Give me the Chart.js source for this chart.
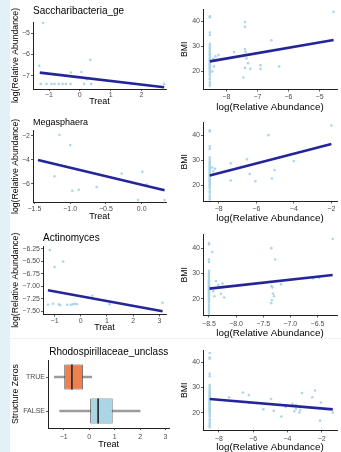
<!DOCTYPE html>
<html>
<head>
<meta charset="utf-8">
<script src="https://cdn.jsdelivr.net/npm/chart.js@4.4.1/dist/chart.umd.min.js"></script>
<style>
  body { margin: 0; background: #fff; width: 341px; height: 452px; position: relative; overflow: hidden; }
  .strip { position: absolute; left: 0; top: 0; width: 10px; height: 452px; background: #e3f0f8; }
  .sep { position: absolute; left: 10px; top: 338px; width: 331px; height: 1px; background: #eef2f4; }
  canvas { position: absolute; }
</style>
</head>
<body>
<div class="strip"></div>
<div class="sep"></div>
<canvas id="c1"></canvas>
<canvas id="c2"></canvas>
<canvas id="c3"></canvas>
<canvas id="c4"></canvas>
<canvas id="c5"></canvas>
<canvas id="c6"></canvas>
<canvas id="c7"></canvas>
<canvas id="c8"></canvas>
<script>
'use strict';

// ---- data ----

// Saccharibacteria_ge : Treat vs log(abundance)
let saccTreat = [-1.19, -1.32, 0.34, -0.29, 0.05, 0.23, -1.27, -1.08, -0.92, -0.82, -0.68, -0.56, -0.45, -0.3, 0.14, 0.37, 2.74];
let saccLog = [-4.5, -6.53, -6.25, -6.85, -6.82, -7.16, -7.38, -7.38, -7.38, -7.38, -7.38, -7.38, -7.38, -7.38, -7.38, -7.38, -7.38];
let saccFitTreat = [-1.3, 2.74];
let saccFitLog = [-6.85, -7.54];

// Megasphaera
let megaTreat = [-1.15, -1.0, -1.22, -0.28, 0.01, 0.07, -0.63, -0.97, -0.88, -0.05, 0.32];
let megaLog = [-1.94, -2.79, -5.39, -5.16, -5.02, -6.08, -6.28, -6.6, -6.51, -7.36, -7.36];
let megaFitTreat = [-1.45, 0.32];
let megaFitLog = [-4.04, -6.55];

// Actinomyces
let actiTreat = [-1.18, -1.0, -0.67, 0.44, 1.1, 3.12, -1.25, -1.06, -0.84, -0.78, -0.51, -0.38, -0.3, -0.22, -0.14];
let actiLog = [-6.27, -6.61, -6.5, -7.19, -7.36, -7.33, -7.37, -7.35, -7.36, -7.38, -7.37, -7.37, -7.36, -7.35, -7.36];
let actiFitTreat = [-1.25, 3.12];
let actiFitLog = [-7.08, -7.5];

// Rhodospirillaceae_unclass : Treat by structural zero
let zeroGroups = ['TRUE', 'FALSE'];
let treatMin = [-1.37, -1.16];
let treatQ1 = [-0.98, 0.04];
let treatMed = [-0.68, 0.35];
let treatQ3 = [-0.25, 0.92];
let treatMax = [0.1, 2.0];

// BMI of the samples sitting at the detection floor (the vertical column)
let floorBmi = [42, 41.5, 35.5, 34.5, 31, 30.2, 29.5, 29, 28.3, 27.8, 27.2, 26.8, 26.3, 25.8, 25.3, 24.8, 24.4, 24, 23.6, 23.2, 22.8, 22.4, 22, 21.6, 21.2, 20.8, 20.3, 19.8, 19.2, 18.5, 17.5, 16.8, 15.8, 15, 14.2];

// Saccharibacteria_ge : log(abundance) vs BMI
let saccFloor = -8.53;
let saccAbund = [-8.42, -8.35, -8.3, -8.25, -8.4, -8.45, -7.75, -7.4, -7.4, -7.4, -7.38, -7.35, -7.3, -7.4, -7.45, -7.23, -6.9, -6.9, -6.55, -6.3, -4.55];
let saccBmi = [25, 26, 24.5, 26.5, 22, 20, 27.7, 39.7, 37.8, 28.9, 27.8, 25.2, 23.3, 21.4, 17.6, 21, 22.5, 21, 32.4, 22, 43.8];
let saccFitAbund = [-8.53, -4.55];
let saccFitBmi = [24.0, 32.5];

// Megasphaera
let megaFloor = -8.48;
let megaAbund = [-8.3, -8.2, -8.35, -2.0, -5.35, -4.0, -6.5, -7.36, -7.36, -6.35, -6.05, -5.03, -5.17];
let megaBmi = [25.5, 26.5, 27, 43.9, 40, 29.6, 30.3, 28.7, 21.8, 24.4, 21.5, 26, 22.6];
let megaFitAbund = [-8.48, -2.0];
let megaFitBmi = [23.8, 36.5];

// Actinomyces
let actiFloor = -8.5;
let actiAbund = [-8.44, -8.37, -8.33, -8.3, -8.28, -8.25, -8.4, -8.42, -8.22, -7.35, -7.28, -7.35, -7.33, -7.32, -7.3, -7.34, -7.35, -7.17, -6.58, -6.47, -6.22];
let actiBmi = [38.5, 27, 25.5, 24.5, 22, 26, 21, 23, 20.5, 40, 35.5, 25, 24.5, 22, 21, 19.5, 18.3, 25.7, 28, 28.2, 43.6];
let actiFitAbund = [-8.49, -6.22];
let actiFitBmi = [24.0, 29.4];

// Rhodospirillaceae_unclass
let rhodFloor = -8.53;
let rhodAbund = [-8.53, -7.4, -6.6, -6.25, -6.25, -5.4, -4.95, -4.8, -4.35, -4.1, -3.7, -3.6, -3.5, -3.3, -3.25, -3.15, -2.55, -2.4, -2.05, -2.1, -1.35, -3.5];
let rhodBmi = [43.8, 26.1, 28, 27, 24, 21.3, 25.4, 20.7, 18.4, 22.2, 23.5, 20.5, 21.5, 20, 21, 27.8, 26.1, 28.8, 24, 16.8, 20, 23];
let rhodFitAbund = [-8.53, -1.36];
let rhodFitBmi = [25.4, 21.3];

// tick labels
let treatTicks1 = [-1, 0, 1, 2];
let logTicks1 = [-7, -6, -5];
let treatTicks2 = [-1.5, -1.0, -0.5, 0.0];
let logTicks2 = [-6, -4, -2];
let treatTicks3 = [-1, 0, 1, 2, 3];
let logTicks3 = [-7.5, -7.25, -7.0, -6.75, -6.5, -6.25];
let treatTicks4 = [-1, 0, 1, 2, 3];
let bmiTicks = [20, 30, 40];
let abundTicks1 = [-8, -7, -6, -5];
let abundTicks2 = [-8, -6, -4, -2];
let abundTicks3 = [-8.5, -8.0, -7.5, -7.0, -6.5];
let abundTicks4 = [-8, -6, -4, -2];

// ---- drawing ----
const FONT = '"Liberation Sans", Arial, sans-serif';
const DOT = 'rgba(168, 212, 230, 0.95)';
const FIT = '#25259b';

Chart.register({
  id: 'sideTitle',
  afterDraw(chart, args, o) {
    if (!o.text) return;
    const ctx = chart.ctx;
    const a = chart.chartArea;
    ctx.save();
    ctx.translate(o.x, (a.top + a.bottom) / 2);
    ctx.rotate(-Math.PI / 2);
    ctx.font = o.size + 'px ' + FONT;
    ctx.fillStyle = '#000';
    ctx.textAlign = 'center';
    ctx.textBaseline = 'middle';
    ctx.fillText(o.text, 0, 0);
    ctx.restore();
  }
});

function place(id, left, top, w, h) {
  let c = document.getElementById(id);
  c.width = w;
  c.height = h;
  c.style.left = left + 'px';
  c.style.top = top + 'px';
  return c;
}

function fmt(v, d) {
  return v.toFixed(d).replace('-', '\u2212');
}

function axis(min, max, ticks, o) {
  return {
    type: 'linear',
    min: min,
    max: max,
    afterBuildTicks: s => { s.ticks = ticks.map(v => ({ value: v })); },
    afterFit: s => { if (s.isHorizontal()) s.height = o.size; else s.width = o.size; },
    grid: { display: true, drawOnChartArea: false, drawTicks: true, tickLength: 2, color: '#333', lineWidth: 0.8 },
    border: { display: true, color: '#222', width: 1 },
    ticks: {
      font: { size: 7, family: FONT }, color: '#4d4d4d', padding: o.pad,
      maxRotation: 0, autoSkip: false,
      callback: v => fmt(v, o.dec || 0)
    },
    title: o.title
      ? { display: true, text: o.title, color: '#000', font: { size: o.tsize, family: FONT }, padding: { top: 0, bottom: 0 } }
      : { display: false }
  };
}

function pts(xs, ys) {
  return xs.map((x, i) => ({ x: x, y: ys[i] }));
}

function scatterPanel(id, box, data, xAx, yAx, title, side) {
  let c = place(id, box[0], box[1], box[2], box[3]);
  let plugins = {
    legend: { display: false },
    tooltip: { enabled: false },
    sideTitle: side
  };
  if (title) {
    plugins.title = {
      display: true, text: title.text, align: 'start', fullSize: false,
      color: '#000', font: { size: title.size, family: FONT, weight: 'normal' },
      padding: title.pad
    };
  }
  return new Chart(c, {
    type: 'scatter',
    data: {
      datasets: [
        {
          data: pts(data.fx, data.fy), showLine: true, pointRadius: 0,
          borderColor: FIT, borderWidth: 2.6, order: 1
        },
        {
          data: pts(data.x, data.y), pointRadius: 1.3, pointBorderWidth: 0,
          backgroundColor: DOT, order: 2
        }
      ]
    },
    options: {
      responsive: false,
      animation: false,
      layout: { padding: box[4] },
      plugins: plugins,
      scales: { x: xAx, y: yAx }
    }
  });
}

function floorPoints(floor, xs, ys) {
  return {
    x: floorBmi.map(() => floor).concat(xs),
    y: floorBmi.concat(ys)
  };
}

// row 1
scatterPanel('c1', [0, 5, 170, 102, { right: 2 }],
  { x: saccTreat, y: saccLog, fx: saccFitTreat, fy: saccFitLog },
  axis(-1.52, 2.8, treatTicks1, { size: 18, pad: 0, title: 'Treat', tsize: 9 }),
  axis(-7.62, -4.47, logTicks1, { size: 33, pad: 1 }),
  { text: 'Saccharibacteria_ge', size: 10, pad: { top: 0, bottom: 5 } },
  { text: 'log(Relative Abundance)', x: 16, size: 8.7 });

let d2 = floorPoints(saccFloor, saccAbund, saccBmi);
scatterPanel('c2', [170, 4, 171, 109, { top: 3 }],
  { x: d2.x, y: d2.y, fx: saccFitAbund, fy: saccFitBmi },
  axis(-8.75, -4.44, abundTicks1, { size: 23.5, pad: 1, title: 'log(Relative Abundance)', tsize: 9.8 }),
  axis(12.8, 44.8, bmiTicks, { size: 33, pad: 1 }),
  null,
  { text: 'BMI', x: 15, size: 8.7 });

// row 2
scatterPanel('c3', [0, 115, 170, 107, { right: 2 }],
  { x: megaTreat, y: megaLog, fx: megaFitTreat, fy: megaFitLog },
  axis(-1.52, 0.34, treatTicks2, { size: 20, pad: 1, title: 'Treat', tsize: 9, dec: 1 }),
  axis(-7.53, -1.6, logTicks2, { size: 33, pad: 1 }),
  { text: 'Megasphaera', size: 9, pad: { top: 2, bottom: 3 } },
  { text: 'log(Relative Abundance)', x: 16, size: 8.7 });

let d4 = floorPoints(megaFloor, megaAbund, megaBmi);
scatterPanel('c4', [170, 117, 171, 107, { top: 3 }],
  { x: d4.x, y: d4.y, fx: megaFitAbund, fy: megaFitBmi },
  axis(-8.84, -1.7, abundTicks2, { size: 22.5, pad: 1, title: 'log(Relative Abundance)', tsize: 9.8 }),
  axis(13.4, 45.2, bmiTicks, { size: 33, pad: 1 }),
  null,
  { text: 'BMI', x: 15, size: 8.7 });

// row 3
scatterPanel('c5', [0, 229, 170, 104, {}],
  { x: actiTreat, y: actiLog, fx: actiFitTreat, fy: actiFitLog },
  axis(-1.44, 3.25, treatTicks3, { size: 18.5, pad: 0.5, title: 'Treat', tsize: 9 }),
  axis(-7.565, -6.19, logTicks3, { size: 43, pad: 1, dec: 2 }),
  { text: 'Actinomyces', size: 10, pad: { top: 3, bottom: 2 } },
  { text: 'log(Relative Abundance)', x: 16, size: 8.7 });

let d6 = floorPoints(actiFloor, actiAbund, actiBmi);
scatterPanel('c6', [170, 229, 171, 110, { top: 3 }],
  { x: d6.x, y: d6.y, fx: actiFitAbund, fy: actiFitBmi },
  axis(-8.61, -6.14, abundTicks3, { size: 23.5, pad: 2, title: 'log(Relative Abundance)', tsize: 9.8, dec: 1 }),
  axis(13.4, 45.5, bmiTicks, { size: 33, pad: 1 }),
  null,
  { text: 'BMI', x: 15, size: 8.7 });

// row 4, left: box plot built from floating bars
let c7 = place('c7', 0, 343, 170, 107);
let boxX = axis(-1.62, 3.15, treatTicks4, { size: 22, pad: 2.5, title: 'Treat', tsize: 9 });
new Chart(c7, {
  type: 'bar',
  data: {
    labels: zeroGroups,
    datasets: [
      {
        data: zeroGroups.map((g, i) => [treatMin[i], treatMax[i]]),
        backgroundColor: '#9b9b9b', barThickness: 1.8, grouped: false, order: 3
      },
      {
        data: zeroGroups.map((g, i) => [treatQ1[i], treatQ3[i]]),
        backgroundColor: ['#ef7f4f', '#a9d5e5'], borderColor: '#3a3a3a', borderWidth: 0.8,
        borderSkipped: false, barPercentage: 0.74, categoryPercentage: 1, grouped: false, order: 2
      },
      {
        data: zeroGroups.map((g, i) => [treatMed[i] - 0.035, treatMed[i] + 0.035]),
        backgroundColor: '#333', barPercentage: 0.74, categoryPercentage: 1, grouped: false, order: 1
      }
    ]
  },
  options: {
    indexAxis: 'y',
    responsive: false,
    animation: false,
    layout: { padding: {} },
    plugins: {
      legend: { display: false },
      tooltip: { enabled: false },
      title: {
        display: true, text: 'Rhodospirillaceae_unclass', align: 'center', fullSize: false,
        color: '#000', font: { size: 10, family: FONT, weight: 'normal' }, padding: { top: 3, bottom: 2 }
      },
      sideTitle: { text: 'Structure Zeros', x: 16, size: 8.7 }
    },
    scales: {
      x: boxX,
      y: {
        type: 'category',
        afterFit: s => { s.width = 48; },
        grid: { display: true, offset: false, drawOnChartArea: false, drawTicks: true, tickLength: 2, color: '#333', lineWidth: 0.8 },
        border: { display: true, color: '#222', width: 1 },
        ticks: { font: { size: 7, family: FONT }, color: '#4d4d4d', padding: 1 }
      }
    }
  }
});

let d8 = floorPoints(rhodFloor, rhodAbund, rhodBmi);
scatterPanel('c8', [170, 345, 171, 108, { top: 3 }],
  { x: d8.x, y: d8.y, fx: rhodFitAbund, fy: rhodFitBmi },
  axis(-8.92, -1.11, abundTicks4, { size: 22.6, pad: 2, title: 'log(Relative Abundance)', tsize: 9.8 }),
  axis(12.9, 44.9, bmiTicks, { size: 33, pad: 1 }),
  null,
  { text: 'BMI', x: 15, size: 8.7 });
</script>
</body>
</html>
